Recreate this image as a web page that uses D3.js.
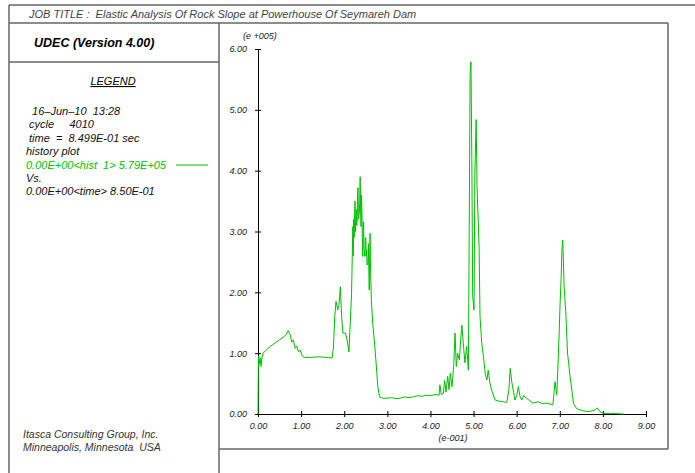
<!DOCTYPE html>
<html lang="en">
  <head>
    <title>UDEC history plot</title>
    <script type="text/javascript" src="https://d3js.org/d3.v7.min.js"></script>
    <style>
      body { margin: 0; background: #fff; }
      text { font-family: "Liberation Sans", Arial, sans-serif; white-space: pre; }
    </style>
  </head>

  <body>
    <div id="chart"></div>

    <script>
      // time in units of e-001 sec
      const timeE1 = [
        0, 0.005, 0.01, 0.03, 0.05, 0.07, 0.09, 0.12, 0.2, 0.3, 0.4, 0.5, 0.6, 0.65, 0.7, 0.75, 0.78, 0.82, 0.86, 0.9,
        0.94, 0.98, 1.02, 1.08, 1.2, 1.4, 1.6, 1.72,
        1.75, 1.78, 1.81, 1.85, 1.88, 1.91, 1.94, 1.97, 2.03, 2.07, 2.11, 2.14, 2.17, 2.2,
        2.21, 2.22, 2.23, 2.25, 2.26, 2.28, 2.29, 2.3, 2.31, 2.32, 2.33, 2.35, 2.36, 2.37, 2.38, 2.39, 2.4,
        2.41, 2.42, 2.43, 2.44, 2.45, 2.46, 2.48, 2.49, 2.5, 2.51, 2.52, 2.53, 2.55, 2.56, 2.58, 2.59, 2.6, 2.61,
        2.63, 2.66, 2.71, 2.78, 2.82, 2.9, 3.0,
        3.1, 3.2, 3.3, 3.4, 3.5, 3.6, 3.7, 3.8, 3.9, 4.0, 4.1, 4.2, 4.22, 4.25, 4.3, 4.33, 4.36, 4.4, 4.43, 4.46,
        4.5, 4.54, 4.57, 4.6, 4.63, 4.67, 4.7, 4.73, 4.76, 4.8, 4.84, 4.88, 4.9, 4.92, 4.94, 4.96, 4.98, 5.01,
        5.03, 5.06, 5.08, 5.11, 5.13, 5.15, 5.19, 5.23, 5.27, 5.31, 5.34, 5.38, 5.42, 5.5, 5.6, 5.7, 5.77, 5.82,
        5.85, 5.89, 5.93, 5.96, 6.0, 6.04, 6.08, 6.12, 6.16, 6.23, 6.3, 6.38, 6.5, 6.6, 6.7, 6.84, 6.89, 6.93,
        6.97, 7.01, 7.03, 7.05, 7.07, 7.1, 7.14, 7.18, 7.24, 7.32, 7.39, 7.5, 7.63, 7.75, 7.82, 7.87, 7.93, 8.01,
        8.2, 8.48
      ];
      // hist 1 in units of e+005
      const histE5 = [
        0, 0.5, 0.95, 0.82, 0.93, 0.78, 0.92, 1.0, 1.06, 1.12, 1.17, 1.22, 1.27, 1.3, 1.37, 1.3, 1.18, 1.22, 1.08, 1.12,
        1.02, 1.05, 0.96, 0.93, 0.93, 0.94, 0.93, 0.92,
        1.1, 1.6, 1.85, 1.71, 1.8, 2.09, 1.6, 1.33, 1.33, 1.2, 1.02, 1.5, 1.98, 3.08,
        2.6, 3.2, 2.9, 3.5, 3.0, 3.36, 3.1, 3.2, 3.6, 3.72, 3.2, 3.3, 3.5, 3.9, 3.4, 3.08, 3.6,
        3.4, 2.9, 2.59, 3.0, 3.16, 2.7, 2.59, 2.85, 2.9, 2.6, 2.7, 2.45, 2.48, 2.8, 2.04, 2.5, 2.97, 2.4,
        1.87, 1.5, 1.11, 0.45, 0.28, 0.26, 0.26,
        0.27, 0.25, 0.26, 0.28, 0.27, 0.28, 0.3, 0.29, 0.31, 0.3, 0.32, 0.31, 0.48, 0.32, 0.34, 0.55, 0.36, 0.62, 0.4, 0.67,
        0.45, 0.8, 1.33, 0.78, 1.0, 0.89, 1.2, 1.46, 1.17, 0.84, 1.11, 0.72, 3.08, 5.6, 5.79, 4.18, 1.93, 1.71,
        3.96, 4.84, 3.74, 3.14, 2.7, 1.6, 1.17, 0.94, 0.67, 0.56, 0.72, 0.51, 0.39, 0.23, 0.21, 0.2, 0.19, 0.4,
        0.75, 0.51, 0.35, 0.23, 0.3, 0.45, 0.28, 0.23, 0.3, 0.26, 0.22, 0.18, 0.2, 0.17, 0.18, 0.15, 0.53, 0.31,
        1.0, 1.87, 2.2, 2.7, 2.86, 2.09, 1.66, 1.0, 0.61, 0.17, 0.09, 0.06, 0.04, 0.05, 0.07, 0.1, 0.04, 0.01,
        0.01, 0
      ];

      const xTicks = [0, 1, 2, 3, 4, 5, 6, 7, 8, 9];
      const yTicks = [0, 1, 2, 3, 4, 5, 6];

      const legendLines = [
        "  16\u2013Jun\u201310  13:28",
        " cycle     4010",
        " time  =  8.499E-01 sec",
        "history plot",
        "0.00E+00<hist  1> 5.79E+05",
        "Vs.",
        "0.00E+00<time> 8.50E-01"
      ];

      const W = 695, H = 473;
      const frame = "#666";
      const green = "#00c000";

      let svg = d3.select("#chart")
        .append("svg")
          .attr("width", W)
          .attr("height", H);

      // frame lines
      const frameLines = [
        [9, 5, 695, 5],
        [9, 5, 9, 473],
        [9, 23, 668, 23],
        [219, 23, 219, 473],
        [9, 62, 219, 62],
        [668, 23, 668, 449],
        [219, 449, 668, 449]
      ];
      svg.selectAll("line.frame")
        .data(frameLines)
        .enter().append("line")
          .attr("class", "frame")
          .attr("x1", d => d[0]).attr("y1", d => d[1])
          .attr("x2", d => d[2]).attr("y2", d => d[3])
          .attr("stroke", frame)
          .attr("stroke-width", 1.5);

      svg.append("text")
        .attr("x", 29).attr("y", 18)
        .style("font-size", "11px").style("font-style", "italic")
        .attr("fill", "#444")
        .text("JOB TITLE :  Elastic Analysis Of Rock Slope at Powerhouse Of Seymareh Dam");

      svg.append("text")
        .attr("x", 34).attr("y", 47)
        .style("font-size", "12.5px").style("font-style", "italic").style("font-weight", "bold")
        .attr("fill", "#000")
        .text("UDEC (Version 4.00)");

      svg.append("text")
        .attr("x", 113).attr("y", 85)
        .attr("text-anchor", "middle")
        .style("font-size", "11px").style("font-style", "italic")
        .style("text-decoration", "underline")
        .text("LEGEND");

      svg.selectAll("text.leg")
        .data(legendLines)
        .enter().append("text")
          .attr("class", "leg")
          .attr("x", 26)
          .attr("y", (d, i) => 115 + i * 13.4)
          .style("font-size", "11px").style("font-style", "italic")
          .attr("fill", (d, i) => i === 4 ? green : "#111")
          .text(d => d);

      svg.append("line")
        .attr("x1", 176).attr("x2", 208)
        .attr("y1", 165).attr("y2", 165)
        .attr("stroke", green);

      svg.selectAll("text.foot")
        .data(["Itasca Consulting Group, Inc.", "Minneapolis, Minnesota  USA"])
        .enter().append("text")
          .attr("class", "foot")
          .attr("x", 23)
          .attr("y", (d, i) => 438 + i * 13)
          .style("font-size", "10.5px").style("font-style", "italic")
          .attr("fill", "#333")
          .text(d => d);

      // scales
      let x = d3.scaleLinear().domain([0, 9]).range([258, 646]);
      let y = d3.scaleLinear().domain([0, 6]).range([414, 49]);

      let xAxis = svg.append("g")
        .attr("transform", "translate(0," + y(0) + ")")
        .call(d3.axisBottom(x).tickValues(xTicks).tickFormat(d3.format(".2f")).tickSizeOuter(0).tickSizeInner(3).tickPadding(6));
      xAxis.selectAll(".tick line").attr("y1", -3).attr("y2", 3);

      let yAxis = svg.append("g")
        .attr("transform", "translate(" + x(0) + ",0)")
        .call(d3.axisLeft(y).tickValues(yTicks).tickFormat(d3.format(".2f")).tickSizeOuter(0).tickSizeInner(3).tickPadding(8));
      yAxis.selectAll(".tick line").attr("x1", -3).attr("x2", 3);

      svg.selectAll(".tick text")
        .style("font-family", "'Liberation Sans', Arial, sans-serif")
        .style("font-size", "9px").style("font-style", "italic")
        .attr("fill", "#222");
      svg.selectAll(".domain").attr("stroke", "#000");

      svg.append("text")
        .attr("x", 243).attr("y", 39)
        .style("font-size", "9px").style("font-style", "italic")
        .attr("fill", "#222")
        .text("(e +005)");

      svg.append("text")
        .attr("x", 453).attr("y", 441)
        .attr("text-anchor", "middle")
        .style("font-size", "9px").style("font-style", "italic")
        .attr("fill", "#222")
        .text("(e-001)");

      // history line
      const pts = timeE1.map((t, i) => ({ t: t, v: histE5[i] }));
      svg.append("path")
        .datum(pts)
        .attr("fill", "none")
        .attr("stroke", green)
        .attr("stroke-width", 1)
        .attr("d", d3.line()
          .x(d => x(d.t))
          .y(d => y(d.v)));
    </script>
  </body>
</html>
